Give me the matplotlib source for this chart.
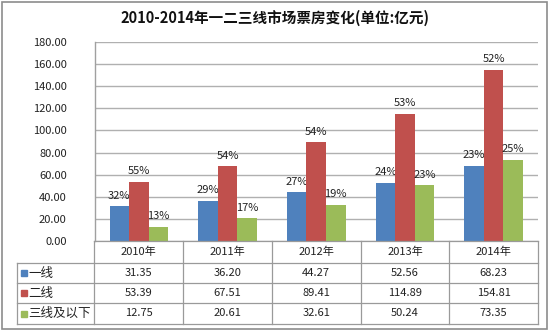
import matplotlib
matplotlib.use("Agg")
import matplotlib.pyplot as plt
from matplotlib.patches import Rectangle
import numpy as np

plt.rcParams['font.family'] = ['Noto Sans CJK SC', 'DejaVu Sans']

title = "2010-2014年一二三线市场票房变化(单位:亿元)"
years = ["2010年", "2011年", "2012年", "2013年", "2014年"]
series_names = ["一线", "二线", "三线及以下"]
tier1 = [31.35, 36.20, 44.27, 52.56, 68.23]
tier2 = [53.39, 67.51, 89.41, 114.89, 154.81]
tier3 = [12.75, 20.61, 32.61, 50.24, 73.35]
pct1 = ["32%", "29%", "27%", "24%", "23%"]
pct2 = ["55%", "54%", "54%", "53%", "52%"]
pct3 = ["13%", "17%", "19%", "23%", "25%"]
yticks = [0, 20, 40, 60, 80, 100, 120, 140, 160, 180]
colors = ["#4F81BD", "#C0504D", "#9BBB59"]

W, H = 550, 331
fig = plt.figure(figsize=(W / 100, H / 100), dpi=100)
fig.patch.set_facecolor("white")

def fx(px):
    return px / W

def fy(py):
    return 1 - py / H

# outer frame
fig.patches.append(Rectangle((fx(2), fy(329)), fx(545), (327) / H, transform=fig.transFigure,
                             fill=False, edgecolor="#8c8c8c", linewidth=1.2))

# main plot area
L, R, T, B = 94.5, 538, 42, 241
ax = fig.add_axes([fx(L), fy(B), fx(R - L), (B - T) / H])
ax.set_xlim(-0.5, 4.5)
ax.set_ylim(0, 180)
ax.set_yticks(yticks)
ax.set_yticklabels([f"{v:.2f}" for v in yticks], fontsize=8, color="#222222")
ax.tick_params(axis="y", length=0, pad=20)
ax.set_xticks([])
ax.yaxis.grid(True, color="#b0b0b0", linewidth=1.0)
ax.set_axisbelow(True)
for s in ["top", "right", "bottom"]:
    ax.spines[s].set_visible(False)
ax.spines["left"].set_color("#a0a0a0")
ax.spines["left"].set_linewidth(1.0)

x = np.arange(len(years))
bw = 0.22
data = [tier1, tier2, tier3]
pcts = [pct1, pct2, pct3]
for i, (vals, labs) in enumerate(zip(data, pcts)):
    pos = x + (i - 1) * bw
    ax.bar(pos, vals, width=bw, color=colors[i], zorder=3)
    for p, v, lab in zip(pos, vals, labs):
        ax.annotate(lab, (p, v), xytext=(0, 4), textcoords="offset points",
                    ha="center", va="bottom", fontsize=8, color="#222222")

# title
fig.text(0.5, fy(18), title, ha="center", va="center", fontsize=10.5, fontweight="bold", color="#111111")

# data table
TL = 17
row_y = [241, 263, 283, 303, 324]
tax = fig.add_axes([fx(TL), fy(row_y[-1]), fx(R - TL), (row_y[-1] - row_y[0]) / H])
unit = (R - L) / 5.0
tax.set_xlim(-0.5 - (L - TL) / unit, 4.5)
tax.set_ylim(row_y[-1], row_y[0])
tax.axis("off")
lc = "#9a9a9a"
lw = 0.9
xl = -0.5 - (L - TL) / unit
# horizontal lines
tax.plot([-0.5, 4.5], [row_y[0], row_y[0]], color=lc, lw=lw, clip_on=False)
for yy in row_y[1:]:
    tax.plot([xl, 4.5], [yy, yy], color=lc, lw=lw, clip_on=False)
# vertical lines
for k in range(6):
    xx = -0.5 + k
    tax.plot([xx, xx], [row_y[0], row_y[-1]], color=lc, lw=lw, clip_on=False)
tax.plot([xl, xl], [row_y[1], row_y[-1]], color=lc, lw=lw, clip_on=False)

for j, yr in enumerate(years):
    tax.text(j, (row_y[0] + row_y[1]) / 2, yr, ha="center", va="center", fontsize=8, color="#222222")
for i, (name, vals) in enumerate(zip(series_names, data)):
    yc = (row_y[i + 1] + row_y[i + 2]) / 2
    for j, v in enumerate(vals):
        tax.text(j, yc, f"{v:.2f}", ha="center", va="center", fontsize=8, color="#222222")
    sq = 6 / unit
    tax.add_patch(Rectangle((xl + 4 / unit, yc - 3), sq, 6, color=colors[i], clip_on=False))
    tax.text(xl + 11 / unit, yc, name, ha="left", va="center", fontsize=9, color="#222222")

fig.savefig("out.png", dpi=100, facecolor="white")
